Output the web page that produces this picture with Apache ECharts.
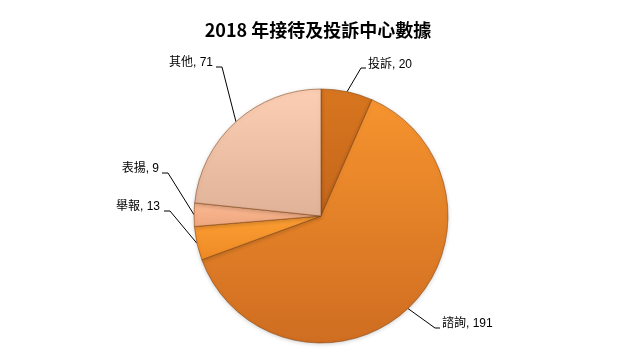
<!DOCTYPE html>
<html><head><meta charset="utf-8">
<script src="https://cdn.jsdelivr.net/npm/echarts@6/dist/echarts.min.js"></script>
<style>html,body{margin:0;padding:0;background:#fff}#c{width:636px;height:362px}</style>
</head><body><div id="c"></div>
<script>
const titleText = '2018 年接待及投訴中心數據';
const categories = ['投訴', '諮詢', '舉報', '表揚', '其他'];
const values = [20, 191, 13, 9, 71];

const topColors = ['#D8761F', '#F6942F', '#FB9E33', '#FAB891', '#FCCFB4'];
const botColors = ['#C4661C', '#CF6D21', '#EF8A25', '#EFA77F', '#E0B298'];

// label placement (text anchor, line bend) per slice
const labelPos = [
  {x: 368, y: 65, align: 'left', bend: [361, 68], end: [366, 68]},
  {x: 442, y: 324, align: 'left', bend: [435, 328], end: [440, 328]},
  {x: 160, y: 207, align: 'right', bend: [170, 211], end: [164, 211]},
  {x: 159, y: 169, align: 'right', bend: [168, 173], end: [162, 173]},
  {x: 213, y: 63, align: 'right', bend: [222, 67], end: [216, 67]}
];

const data = categories.map((n, i) => ({
  name: n, value: values[i],
  itemStyle: {
    color: new echarts.graphic.LinearGradient(0, 0, 0, 1, [
      {offset: 0, color: topColors[i]}, {offset: 1, color: botColors[i]}
    ])
  }
}));

const chart = echarts.init(document.getElementById('c'), null, {renderer: 'canvas'});
chart.setOption({
  animation: false,
  title: {
    text: titleText, left: 'center', top: 16,
    textStyle: {fontSize: 18, fontWeight: 'bold', color: '#000', fontFamily: '"Noto Sans CJK TC", "Noto Sans", sans-serif'}
  },
  series: [{
    type: 'pie',
    center: [321, 216],
    radius: [0, 127],
    startAngle: 90,
    clockwise: true,
    data: data,
    itemStyle: {
      borderColor: 'rgba(130,65,15,0.55)', borderWidth: 1,
      shadowColor: 'rgba(0,0,0,0.18)', shadowBlur: 4, shadowOffsetY: 1
    },
    label: {
      show: true, formatter: '{b}, {c}', color: '#000', fontSize: 12,
      fontFamily: '"Liberation Sans", "Noto Sans CJK TC", sans-serif'
    },
    labelLine: {show: true, lineStyle: {color: '#000', width: 1}},
    labelLayout: function (params) {
      const p = labelPos[params.dataIndex];
      const p0 = params.labelLinePoints ? params.labelLinePoints[0] : null;
      const res = {x: p.x, y: p.y, align: p.align, verticalAlign: 'middle'};
      if (p0) res.labelLinePoints = [p0, p.bend, p.end];
      return res;
    }
  }]
});
</script></body></html>
